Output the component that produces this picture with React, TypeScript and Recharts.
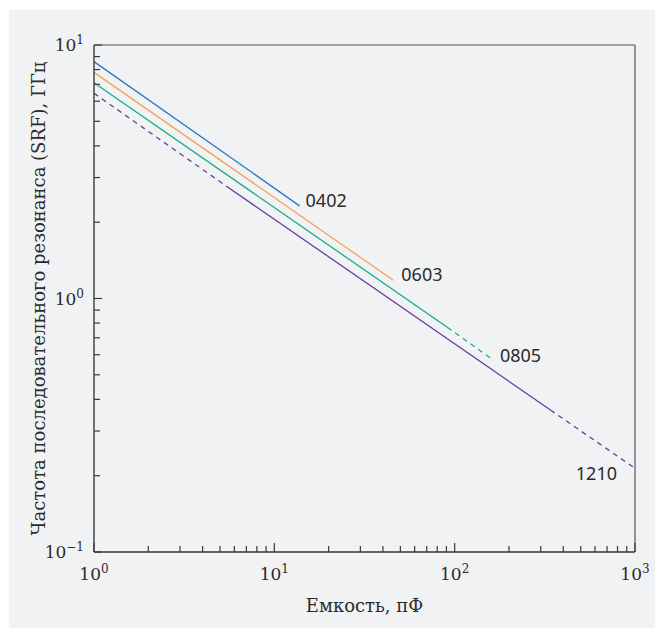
import React from "react";
import { LineChart, Line, XAxis, YAxis, ReferenceLine } from "recharts";

// capacitance, pF (x) and series resonance frequency, GHz (y)
const x0402 = [1, 13.8];
const y0402 = [8.6, 2.32];

const x0603 = [1, 45.7];
const y0603 = [7.8, 1.18];

const x0805Solid = [1, 91];
const y0805Solid = [7.1, 0.77];
const x0805Dash = [91, 165];
const y0805Dash = [0.77, 0.57];

const x1210DashA = [1, 5.4];
const y1210DashA = [6.45, 2.78];
const x1210Solid = [5.4, 340];
const y1210Solid = [2.78, 0.363];
const x1210DashB = [340, 1000];
const y1210DashB = [0.363, 0.214];

const xTicks = [
  1, 2, 3, 4, 5, 6, 7, 8, 9, 10, 20, 30, 40, 50, 60, 70, 80, 90, 100, 200, 300, 400, 500, 600,
  700, 800, 900, 1000,
];
const yTicks = [0.1, 0.2, 0.3, 0.4, 0.5, 0.6, 0.7, 0.8, 0.9, 1, 2, 3, 4, 5, 6, 7, 8, 9, 10];
const xMajor = [1, 10, 100, 1000];
const xMajorExp = ["0", "1", "2", "3"];
const yMajor = [0.1, 1, 10];
const yMajorExp = ["−1", "0", "1"];

const AXIS = "#3a3a3a";
const BG = "#f1f2f4";
const TEXT = "#2b2b2b";
const SERIF = "'DejaVu Serif', serif";
const SANS = "'Noto Sans', 'Open Sans', sans-serif";

const C_0402 = "#2a78c4";
const C_0603 = "#f4a259";
const C_0805 = "#19ad84";
const C_1210 = "#6a3b9e";

const zip = (xs: number[], ys: number[]) => xs.map((x, i) => ({ x, y: ys[i] }));

function XTick(props: any) {
  const { x, y, payload } = props;
  const i = xMajor.indexOf(payload.value);
  const len = i >= 0 ? 9 : 6;
  return (
    <g>
      <line x1={x} x2={x} y1={y} y2={y - len} stroke={AXIS} strokeWidth={1.2} />
      {i >= 0 && (
        <text x={x} y={y + 28} textAnchor="middle" fontFamily={SERIF} fontSize={17} fill={TEXT}>
          10
          <tspan dy={-7} fontSize={12}>
            {xMajorExp[i]}
          </tspan>
        </text>
      )}
    </g>
  );
}

function YTick(props: any) {
  const { x, y, payload } = props;
  const i = yMajor.indexOf(payload.value);
  const len = i >= 0 ? 8 : 6;
  return (
    <g>
      <line x1={x} x2={x + len} y1={y} y2={y} stroke={AXIS} strokeWidth={1.2} />
      {i >= 0 && (
        <text x={x - 10} y={y + 6} textAnchor="end" fontFamily={SERIF} fontSize={17} fill={TEXT}>
          10
          <tspan dy={-7} fontSize={12}>
            {yMajorExp[i]}
          </tspan>
        </text>
      )}
    </g>
  );
}

function endLabel(text: string, last: number, dx: number, dy: number, anchor = "start") {
  return (p: any) => {
    if (p.index !== last) return <g />;
    return (
      <text
        x={p.x + dx}
        y={p.y + dy}
        textAnchor={anchor}
        dominantBaseline="central"
        fontFamily={SANS}
        fontSize={18}
        fill={TEXT}
      >
        {text}
      </text>
    );
  };
}

export default function App() {
  return (
    <div style={{ position: "absolute", left: 9, top: 10, width: 646, height: 618, background: BG }}>
      <LineChart width={646} height={618} margin={{ top: 35, right: 20, left: 0, bottom: 0 }}>
        <XAxis
          dataKey="x"
          type="number"
          scale="log"
          domain={[1, 1000]}
          allowDataOverflow
          ticks={xTicks}
          interval={0}
          height={76}
          tickSize={0}
          tickMargin={0}
          tickLine={false}
          tick={<XTick />}
          axisLine={{ stroke: AXIS, strokeWidth: 1.4 }}
          label={{
            content: (p: any) => {
              const vb = p.viewBox;
              return (
                <text
                  x={vb.x + vb.width / 2}
                  y={vb.y + 60}
                  textAnchor="middle"
                  fontFamily={SERIF}
                  fontSize={18}
                  fill={TEXT}
                >
                  Емкость, пФ
                </text>
              );
            },
          }}
        />
        <YAxis
          dataKey="y"
          type="number"
          scale="log"
          domain={[0.1, 10]}
          allowDataOverflow
          ticks={yTicks}
          interval={0}
          width={85}
          tickSize={0}
          tickMargin={0}
          tickLine={false}
          tick={<YTick />}
          axisLine={{ stroke: AXIS, strokeWidth: 1.4 }}
          label={{
            content: (p: any) => {
              const vb = p.viewBox;
              const cx = vb.x + 36;
              const cy = vb.y + vb.height / 2;
              return (
                <text
                  x={cx}
                  y={cy}
                  transform={`rotate(-90 ${cx} ${cy})`}
                  textAnchor="middle"
                  fontFamily={SERIF}
                  fontSize={18}
                  fill={TEXT}
                >
                  Частота последовательного резонанса (SRF), ГГц
                </text>
              );
            },
          }}
        />
        <ReferenceLine y={10} stroke="#555" strokeWidth={1.2} />
        <ReferenceLine x={1000} stroke="#555" strokeWidth={1.2} />

        <Line
          data={zip(x0402, y0402)}
          dataKey="y"
          type="linear"
          stroke={C_0402}
          strokeWidth={1.3}
          dot={false}
          isAnimationActive={false}
          label={endLabel("0402", x0402.length - 1, 6, -6)}
        />
        <Line
          data={zip(x0603, y0603)}
          dataKey="y"
          type="linear"
          stroke={C_0603}
          strokeWidth={1.3}
          dot={false}
          isAnimationActive={false}
          label={endLabel("0603", x0603.length - 1, 8, -6)}
        />
        <Line
          data={zip(x0805Solid, y0805Solid)}
          dataKey="y"
          type="linear"
          stroke={C_0805}
          strokeWidth={1.3}
          dot={false}
          isAnimationActive={false}
        />
        <Line
          data={zip(x0805Dash, y0805Dash)}
          dataKey="y"
          type="linear"
          stroke={C_0805}
          strokeWidth={1.3}
          strokeDasharray="5 4.5"
          dot={false}
          isAnimationActive={false}
          label={endLabel("0805", x0805Dash.length - 1, 6, -5)}
        />
        <Line
          data={zip(x1210DashA, y1210DashA)}
          dataKey="y"
          type="linear"
          stroke={C_1210}
          strokeWidth={1.3}
          strokeDasharray="5 4.5"
          dot={false}
          isAnimationActive={false}
        />
        <Line
          data={zip(x1210Solid, y1210Solid)}
          dataKey="y"
          type="linear"
          stroke={C_1210}
          strokeWidth={1.3}
          dot={false}
          isAnimationActive={false}
        />
        <Line
          data={zip(x1210DashB, y1210DashB)}
          dataKey="y"
          type="linear"
          stroke={C_1210}
          strokeWidth={1.3}
          strokeDasharray="5 4.5"
          dot={false}
          isAnimationActive={false}
          label={endLabel("1210", x1210DashB.length - 1, -18, 5, "end")}
        />
      </LineChart>
    </div>
  );
}
